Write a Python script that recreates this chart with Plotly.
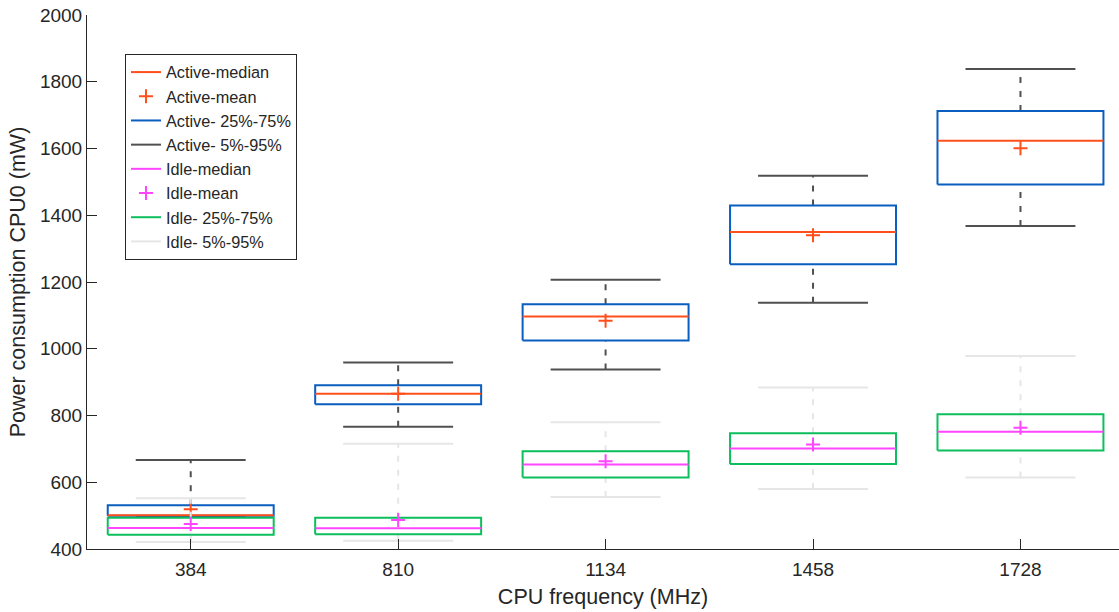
import plotly.graph_objects as go

freq_labels = ["384", "810", "1134", "1458", "1728"]

active_p5 = [499, 766, 938, 1138, 1368]
active_q25 = [500, 834, 1025, 1253, 1492]
active_median = [501, 865, 1097, 1350, 1623]
active_mean = [519, 865, 1084, 1340, 1601]
active_q75 = [531, 891, 1133, 1429, 1712]
active_p95 = [667, 959, 1207, 1518, 1838]

idle_p5 = [421, 425, 556, 580, 614]
idle_q25 = [443, 444, 614, 655, 695]
idle_median = [463, 462, 653, 701, 751]
idle_mean = [475, 487, 663, 713, 763]
idle_q75 = [494, 494, 693, 747, 804]
idle_p95 = [552, 715, 780, 884, 978]

BOX_HALF = 0.4
CAP_HALF = 0.265
pos = list(range(1, len(freq_labels) + 1))

FONT = "Liberation Sans, Arial, sans-serif"
TXT = "#262626"


def segs(vals, half):
    xs, ys = [], []
    for p, v in zip(pos, vals):
        xs += [p - half, p + half, None]
        ys += [v, v, None]
    return xs, ys


def whiskers(lo, hi):
    xs, ys = [], []
    for p, a, b in zip(pos, lo, hi):
        xs += [p, p, None]
        ys += [a, b, None]
    return xs, ys


def boxes(q25, q75):
    xs, ys = [], []
    for p, a, b in zip(pos, q25, q75):
        xs += [p - BOX_HALF, p + BOX_HALF, p + BOX_HALF, p - BOX_HALF, p - BOX_HALF, None]
        ys += [a, a, b, b, a, None]
    return xs, ys


fig = go.Figure()


def add_group(prefix, p5, q25, med, mean, q75, p95, c_med, c_box, c_whisk, rank0):
    # dashed whiskers
    wx1, wy1 = whiskers(q75, p95)
    wx2, wy2 = whiskers(p5, q25)
    fig.add_trace(go.Scatter(x=wx1 + wx2, y=wy1 + wy2, mode="lines",
                             line=dict(color=c_whisk, width=2, dash="6px,8px"),
                             showlegend=False, hoverinfo="skip"))
    # caps
    cx1, cy1 = segs(p95, CAP_HALF)
    cx2, cy2 = segs(p5, CAP_HALF)
    fig.add_trace(go.Scatter(x=cx1 + cx2, y=cy1 + cy2, mode="lines",
                             line=dict(color=c_whisk, width=2),
                             name=prefix + "- 5%-95%", legendrank=rank0 + 3))
    # box
    bx, by = boxes(q25, q75)
    fig.add_trace(go.Scatter(x=bx, y=by, mode="lines",
                             line=dict(color=c_box, width=2),
                             name=prefix + "- 25%-75%", legendrank=rank0 + 2))
    # median
    mx, my = segs(med, BOX_HALF)
    fig.add_trace(go.Scatter(x=mx, y=my, mode="lines",
                             line=dict(color=c_med, width=2),
                             name=prefix + "-median", legendrank=rank0))
    # mean
    fig.add_trace(go.Scatter(x=pos, y=mean, mode="markers",
                             marker=dict(symbol="cross-thin", size=10,
                                         line=dict(color=c_med, width=2)),
                             name=prefix + "-mean", legendrank=rank0 + 1))


add_group("Active", active_p5, active_q25, active_median, active_mean, active_q75, active_p95,
          "#FF4F1A", "#0A5EBF", "#505050", 1)
add_group("Idle", idle_p5, idle_q25, idle_median, idle_mean, idle_q75, idle_p95,
          "#FF45FF", "#0CBF5C", "#E6E6E6", 11)

fig.update_layout(
    width=1119, height=612,
    margin=dict(l=87, r=0, t=15, b=63),
    paper_bgcolor="white", plot_bgcolor="white",
    font=dict(family=FONT, color=TXT, size=19),
    showlegend=True,
    legend=dict(x=0.0368, y=0.927, xanchor="left", yanchor="top",
                bgcolor="white", bordercolor=TXT, borderwidth=1,
                font=dict(family=FONT, size=16.3, color=TXT),
                tracegroupgap=0),
)

fig.update_xaxes(
    range=[0.5, 5.475], tickmode="array", tickvals=pos, ticktext=freq_labels,
    ticks="inside", ticklen=10, tickwidth=1, tickcolor=TXT,
    showline=True, linecolor=TXT, linewidth=1, showgrid=False, zeroline=False,
    tickfont=dict(size=19, color=TXT, family=FONT), ticklabelstandoff=3,
    title=dict(text="CPU frequency (MHz)", font=dict(size=21.5, color=TXT, family=FONT), standoff=10),
)
fig.update_yaxes(
    range=[400, 2000], tickmode="array", tickvals=list(range(400, 2001, 200)),
    ticks="inside", ticklen=10, tickwidth=1, tickcolor=TXT,
    showline=True, linecolor=TXT, linewidth=1, showgrid=False, zeroline=False,
    tickfont=dict(size=19, color=TXT, family=FONT),
    title=dict(text="Power consumption CPU0 (mW)", font=dict(size=21.5, color=TXT, family=FONT), standoff=8),
)

fig.write_html("out.html")
